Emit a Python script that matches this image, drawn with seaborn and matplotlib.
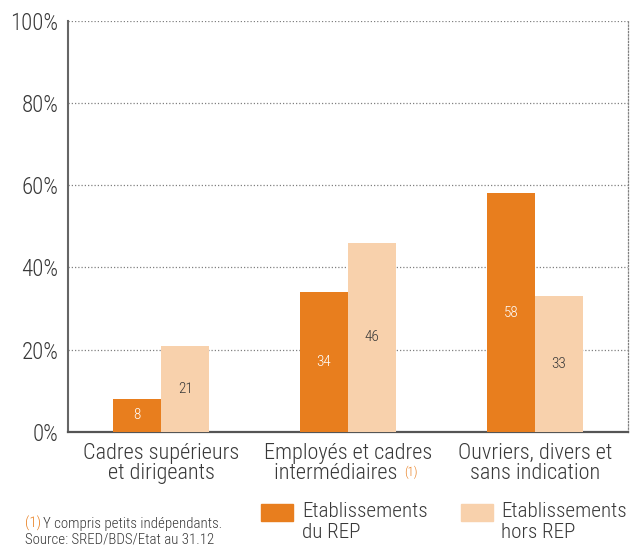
import matplotlib
matplotlib.use('Agg')
import matplotlib.pyplot as plt
import seaborn as sns
import pandas as pd
from matplotlib.patches import Rectangle

categories = ['Cadres supérieurs\net dirigeants',
              'Employés et cadres\nintermédiaires     ',
              'Ouvriers, divers et\nsans indication']
rep = [8, 34, 58]
hors_rep = [21, 46, 33]
series = ['Etablissements\ndu REP', 'Etablissements\nhors REP']
colors = ['#E87E1E', '#F8D1AC']
yticks = [0, 20, 40, 60, 80, 100]

df = pd.DataFrame({
    'cat': categories * 2,
    'val': rep + hors_rep,
    'serie': [series[0]] * 3 + [series[1]] * 3,
})

sns.set_style('white')
plt.rcParams['font.family'] = ['Roboto Condensed', 'Liberation Sans', 'DejaVu Sans']
plt.rcParams['font.weight'] = 'light'
txt = '#383838'
fs = 16

fig = plt.figure(figsize=(6.3, 5.46), dpi=100)
ax = fig.add_axes([0.108, 0.209, 0.889, 0.753])
sns.barplot(data=df, x='cat', y='val', hue='serie', palette=colors,
            width=0.515, saturation=1, linewidth=0, ax=ax, legend=False, zorder=3)

ax.set_ylim(0, 100)
ax.set_xlim(-0.5, 2.5)
ax.set_yticks(yticks)
ax.set_yticklabels([f'{t}%' for t in yticks], fontsize=16.5, color=txt)
ax.tick_params(axis='x', labelsize=fs, colors=txt, length=0, pad=8)
ax.tick_params(axis='y', length=0, pad=7)
for lab in ax.get_xticklabels():
    lab.set_linespacing(0.95)
ax.set_xlabel('')
ax.set_ylabel('')
dot = (0, (1, 1.6))
for y in yticks[1:]:
    ax.axhline(y, linestyle=dot, color='#808080', linewidth=0.9, zorder=0)

ax.spines['top'].set_visible(False)
ax.spines['right'].set_linestyle(dot)
ax.spines['right'].set_color('#808080')
ax.spines['right'].set_linewidth(0.9)
ax.spines['left'].set_color('#666666')
ax.spines['left'].set_linewidth(1.5)
ax.spines['bottom'].set_color('#555555')
ax.spines['bottom'].set_linewidth(1.6)

# value labels inside bars
for i, cont in enumerate(ax.containers):
    tc = 'white' if i == 0 else txt
    for bar, v in zip(cont, [rep, hors_rep][i]):
        ax.text(bar.get_x() + bar.get_width() / 2, v / 2, str(v),
                ha='center', va='center', fontsize=11, color=tc, zorder=4)

# footnote mark on second category
fig.text(404 / 630, 1 - 476 / 546, '(1)', fontsize=9, color='#E87E1E')

# legend drawn by hand, handle aligned with first line
for k, (lab, c) in enumerate(zip(series, colors)):
    x0 = [261, 461][k] / 630
    fig.patches.append(Rectangle((x0, 1 - 521 / 546), 32 / 630, 17 / 546,
                                 transform=fig.transFigure, color=c))
    fig.text([302, 501][k] / 630, 1 - 502 / 546, lab, fontsize=15.2, color=txt,
             va='top', linespacing=1.12)

fig.text(25 / 630, 1 - 528 / 546, '(1)', fontsize=10.7, color='#E87E1E')
fig.text(43 / 630, 1 - 528 / 546, 'Y compris petits indépendants.', fontsize=10.7, color=txt)
fig.text(25 / 630, 1 - 543 / 546, 'Source: SRED/BDS/Etat au 31.12', fontsize=10.7, color=txt)

fig.savefig('out.png', dpi=100)
